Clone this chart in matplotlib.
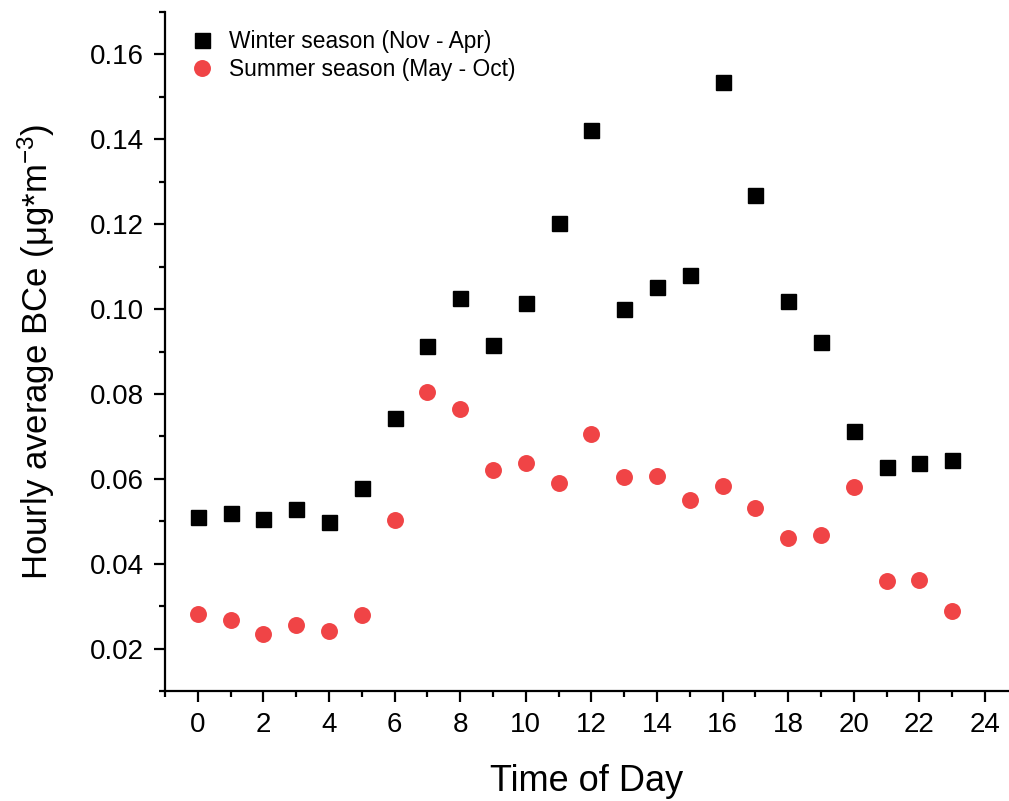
import matplotlib
matplotlib.use("Agg")
import matplotlib.pyplot as plt
from matplotlib.ticker import MultipleLocator
from matplotlib import font_manager

plt.rcParams['font.family'] = ['Liberation Sans', 'DejaVu Sans']
plt.rcParams['mathtext.fontset'] = 'custom'
plt.rcParams['mathtext.rm'] = 'Liberation Sans'
plt.rcParams['mathtext.default'] = 'regular'

hours = list(range(24))
winter = [0.0510, 0.0519, 0.0505, 0.0529, 0.0498, 0.0578, 0.0743, 0.0912,
          0.1027, 0.0916, 0.1015, 0.1203, 0.1422, 0.0999, 0.1053, 0.1081,
          0.1534, 0.1269, 0.1020, 0.0923, 0.0712, 0.0628, 0.0637, 0.0644]
summer = [0.0282, 0.0268, 0.0235, 0.0256, 0.0242, 0.0280, 0.0503, 0.0804,
          0.0764, 0.0620, 0.0637, 0.0590, 0.0705, 0.0604, 0.0606, 0.0550,
          0.0583, 0.0531, 0.0461, 0.0468, 0.0581, 0.0360, 0.0362, 0.0289]
winter_label = "Winter season (Nov - Apr)"
summer_label = "Summer season (May - Oct)"
xticks = list(range(0, 25, 2))
yticks = [0.02, 0.04, 0.06, 0.08, 0.10, 0.12, 0.14, 0.16]

names = {f.name for f in font_manager.fontManager.ttflist}
narrow = ['Liberation Sans Narrow'] if 'Liberation Sans Narrow' in names else ['Liberation Sans']

fig = plt.figure(figsize=(10.09, 8.01), dpi=100)
ax = fig.add_axes([165/1009, 110/801, 1 - 165/1009, (691-12)/801])

ax.plot(hours, winter, linestyle='none', marker='s', markersize=10.8,
        color='black', label=winter_label)
ax.plot(hours, summer, linestyle='none', marker='o', markersize=12.2,
        color='#F04446', markeredgewidth=0, label=summer_label)

ax.set_xlim(-1, 24.73)
ax.set_ylim(0.01, 0.17)
ax.set_xticks(xticks)
ax.set_xticklabels([str(v) for v in xticks], family=narrow, fontsize=20)
ax.set_yticks(yticks)
ax.set_yticklabels([f"{v:.2f}" for v in yticks], fontsize=20)
ax.xaxis.set_minor_locator(MultipleLocator(1))
ax.yaxis.set_minor_locator(MultipleLocator(0.01))

for s in ['top', 'right']:
    ax.spines[s].set_visible(False)
for s in ['left', 'bottom']:
    ax.spines[s].set_linewidth(1.6)

ax.tick_params(which='major', direction='out', length=8, width=1.6, pad=7)
ax.tick_params(which='minor', direction='out', length=4, width=1.6)

ax.set_xlabel("Time of Day", fontsize=26, labelpad=19)
ax.set_ylabel(r"Hourly average BCe (μg*m$^{-3}$)", fontsize=25, labelpad=24)

ax.legend(loc='upper left', bbox_to_anchor=(0.006, 1.001), frameon=False,
          fontsize=16.4, handletextpad=0.6, labelspacing=0.25,
          handlelength=1.2, borderaxespad=0.4)

fig.savefig("out.png", dpi=100)
